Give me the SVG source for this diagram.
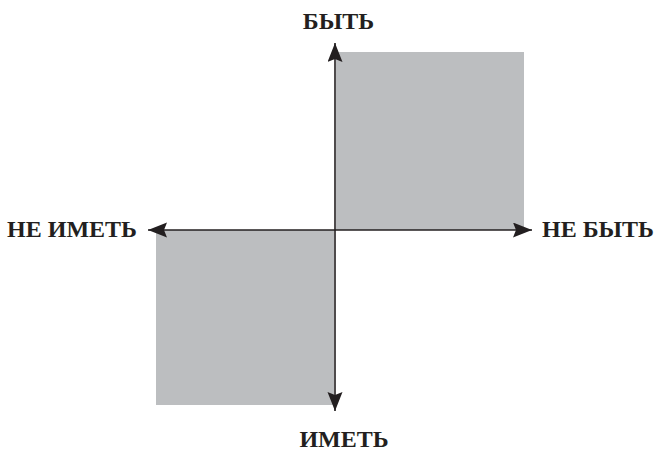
<svg xmlns="http://www.w3.org/2000/svg" width="655" height="451" viewBox="0 0 655 451">
<style>
.q{fill:#bcbec0;stroke:none}
.ax{stroke:#231f20;stroke-width:1.6;fill:none}
.t{font-family:"Liberation Serif","Times New Roman",serif;font-weight:bold;font-size:24px;fill:#231f20}
</style>
<defs>
<marker id="ah" markerUnits="userSpaceOnUse" markerWidth="20" markerHeight="16" refX="19" refY="7.5" orient="auto">
<path d="M0,0 L19,7.5 L0,15 L3,7.5 Z" fill="#231f20"/>
</marker>
</defs>
<g id="quadrant-top-right"><rect class="q" x="336" y="52" width="188" height="178"/></g>
<g id="quadrant-bottom-left"><rect class="q" x="156" y="230" width="178" height="175"/></g>
<g id="connectors">
<line class="ax" x1="335" y1="230" x2="335" y2="43" marker-end="url(#ah)"/>
<line class="ax" x1="335" y1="230" x2="335" y2="411" marker-end="url(#ah)"/>
<line class="ax" x1="335" y1="230" x2="532" y2="230" marker-end="url(#ah)"/>
<line class="ax" x1="335" y1="230" x2="148" y2="230" marker-end="url(#ah)"/>
</g>
<g id="label-byt"><text class="t" x="338.5" y="29" text-anchor="middle">БЫТЬ</text></g>
<g id="label-imet"><text class="t" x="344" y="447" text-anchor="middle">ИМЕТЬ</text></g>
<g id="label-ne-byt"><text class="t" x="542" y="237">НЕ БЫТЬ</text></g>
<g id="label-ne-imet"><text class="t" x="137" y="237" text-anchor="end">НЕ ИМЕТЬ</text></g>
</svg>
